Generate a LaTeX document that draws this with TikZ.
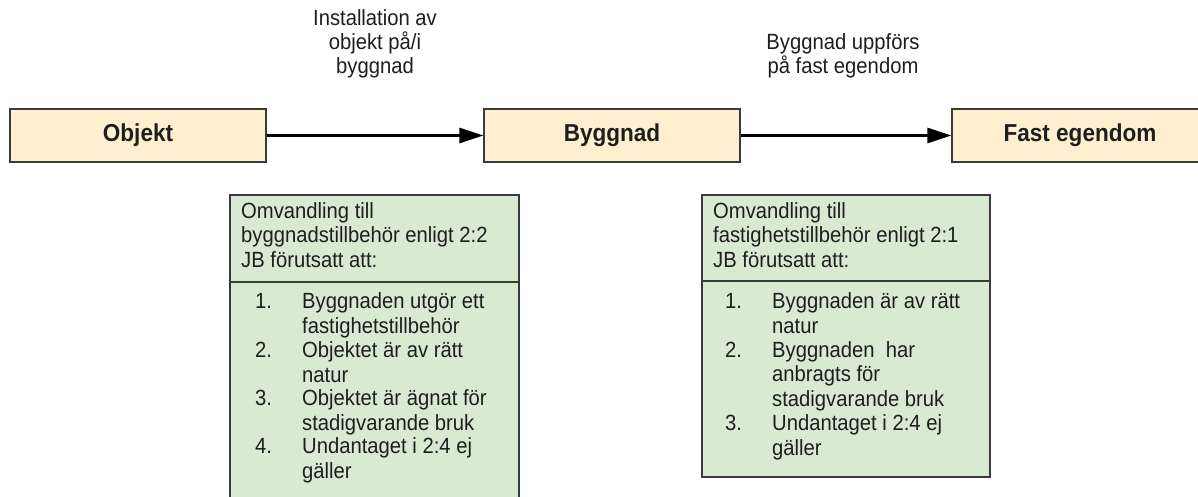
\documentclass[tikz,border=0pt]{standalone}
\usepackage{fontspec}
\setmainfont{Liberation Sans}[FakeStretch=0.92]
\usetikzlibrary{arrows.meta}
\definecolor{beige}{HTML}{FDEFD0}
\definecolor{pale}{HTML}{D9EAD3}
\definecolor{edge}{HTML}{3A3A3A}
\definecolor{ink}{HTML}{1E1E1E}
\begin{document}
\begin{tikzpicture}[x=1pt,y=-1pt,
  entity/.style={draw=edge,fill=beige,line width=1.4pt,minimum width=256pt,minimum height=53pt,inner sep=0pt,font=\fontsize{24.5}{27}\selectfont\bfseries,text=ink},
  flow/.style={line width=2.8pt,-{Triangle[length=24pt,width=15pt]}},
  lbl/.style={align=center,font=\fontsize{22}{24.3}\selectfont,text=ink,inner sep=0pt,anchor=base},
  cond/.style={draw=edge,fill=pale,line width=1.2pt},
  txt/.style={align=left,font=\fontsize{22}{24.3}\selectfont,text=ink,inner sep=0pt,anchor=base west}]
\clip (0,0) rectangle (1198,497);
\fill[white] (0,0) rectangle (1198,497);
% main entities
\node[entity] (obj) at (138,135.5) {Objekt};
\node[entity] (byg) at (612,135.5) {Byggnad};
\node[entity] (fast) at (1080,135.5) {Fast egendom};
\draw[flow] (obj) -- (byg);
\draw[flow] (byg) -- (fast);
% arrow labels (anchor = baseline of last line)
\node[lbl] (l1) at (375,74) {Installation av\\objekt på/i\\byggnad};
\node[lbl] (l2) at (843,74) {Byggnad uppförs\\på fast egendom};
% condition box 1
\draw[cond] (230,195) rectangle (519,282);
\draw[cond] (230,282) rectangle (519,510);
\node[txt] (h1) at (241,267) {Omvandling till\\byggnadstillbehör enligt 2:2\\JB förutsatt att:};
\node[txt] (n11) at (255,308) {1.};
\node[txt] (t11) at (302,333) {Byggnaden utgör ett\\fastighetstillbehör};
\node[txt] (n12) at (255,357) {2.};
\node[txt] (t12) at (302,382) {Objektet är av rätt\\natur};
\node[txt] (n13) at (255,405) {3.};
\node[txt] (t13) at (302,430) {Objektet är ägnat för\\stadigvarande bruk};
\node[txt] (n14) at (255,453) {4.};
\node[txt] (t14) at (302,478) {Undantaget i 2:4 ej\\gäller};
% condition box 2
\draw[cond] (702,195) rectangle (990,281);
\draw[cond] (702,281) rectangle (990,477);
\node[txt] (h2) at (713,267) {Omvandling till\\fastighetstillbehör enligt 2:1\\JB förutsatt att:};
\node[txt] (n21) at (725,308) {1.};
\node[txt] (t21) at (772,333) {Byggnaden är av rätt\\natur};
\node[txt] (n22) at (725,357) {2.};
\node[txt] (t22) at (772,406) {Byggnaden~ har\\anbragts för\\stadigvarande bruk};
\node[txt] (n23) at (725,430) {3.};
\node[txt] (t23) at (772,455) {Undantaget i 2:4 ej\\gäller};
\end{tikzpicture}
\end{document}
